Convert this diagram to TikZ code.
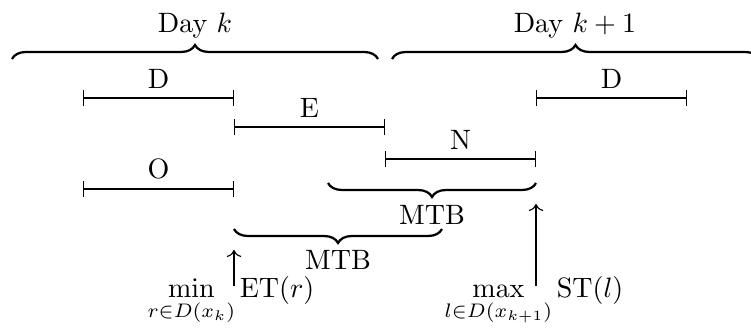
\documentclass[tikz,border=0pt]{standalone}
\usetikzlibrary{decorations.pathreplacing,arrows.meta}

\tikzset{
  shiftbar/.style={{Bar[width=5.6pt]}-{Bar[width=5.6pt]}},
  daybrace/.style={thick, decorate, decoration={brace, amplitude=5pt}},
  mtbbrace/.style={thick, decorate, decoration={brace, mirror, amplitude=5pt}},
  lbl/.style={anchor=base, inner sep=0pt},
}

\begin{document}
\begin{tikzpicture}[x=0.357pt, y=-0.357pt]
  \useasboundingbox (0,0) rectangle (751,331);

  % days
  \draw[daybrace] (12,59) -- (378,59);
  \node[lbl] (dayk) at (195,33) {Day $k$};
  \draw[daybrace] (392,59) -- (759,59);
  \node[lbl] (daykk) at (575,33) {Day $k+1$};

  % shifts
  \draw[shiftbar] (83,98) -- node[above] (d1) {D} (234,98);
  \draw[shiftbar] (234,127) -- node[above] (e) {E} (385,127);
  \draw[shiftbar] (385,159) -- node[above] (n) {N} (536,159);
  \draw[shiftbar] (83,189) -- node[above] (o) {O} (234,189);
  \draw[shiftbar] (536,98) -- node[above] (d2) {D} (687,98);

  % minimum time between shifts
  \draw[mtbbrace] (328,183) -- (536,183);
  \node[lbl] (mtb1) at (432,225) {MTB};
  \draw[mtbbrace] (234,229) -- (442,229);
  \node[lbl] (mtb2) at (338,270) {MTB};

  % bounds
  \node[lbl] (et) at (231,298) {$\displaystyle\min_{r\in D(x_k)} \mathrm{ET}(r)$};
  \node[lbl] (st) at (534,298) {$\displaystyle\max_{l\in D(x_{k+1})} \mathrm{ST}(l)$};
  \coordinate (a1) at (234,286);
  \coordinate (a2) at (536,286);
  \draw[->] (a1) -- ++(0,-36);
  \draw[->] (a2) -- ++(0,-82);
\end{tikzpicture}
\end{document}
